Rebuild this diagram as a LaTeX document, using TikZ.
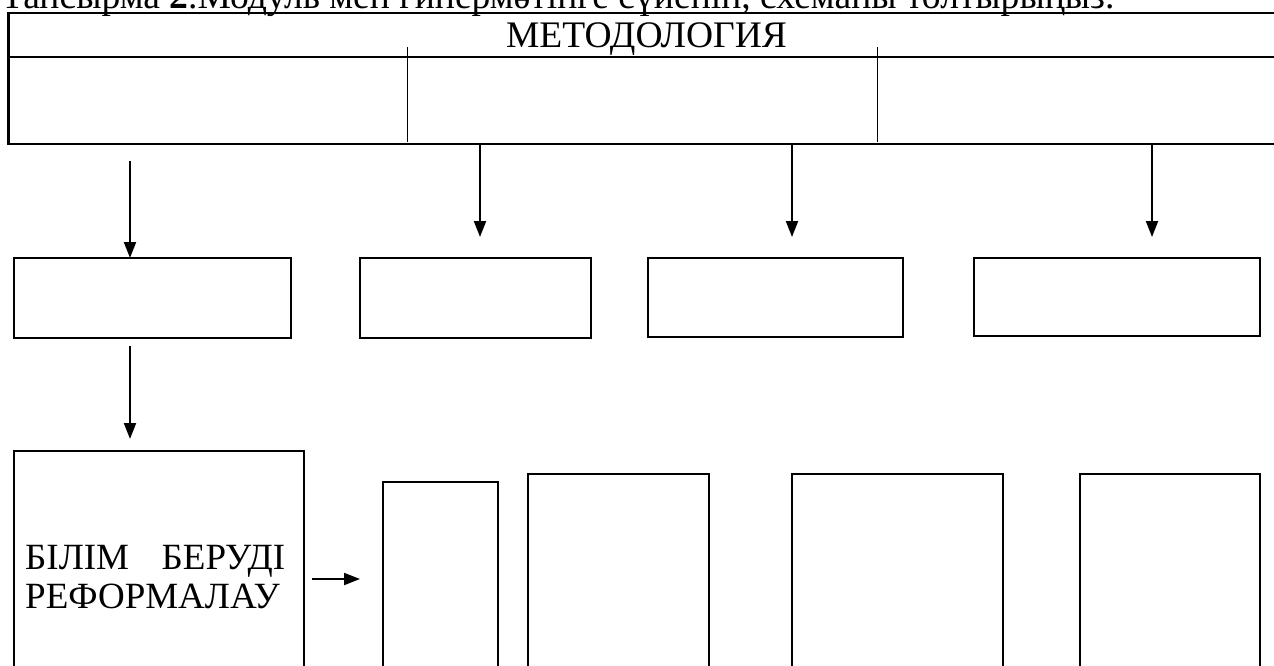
\documentclass[tikz,border=0pt]{standalone}
\usepackage{fontspec}
\setmainfont{Liberation Serif}
\usetikzlibrary{arrows.meta}
\begin{document}
\begin{tikzpicture}[x=1pt,y=-1pt,
  frame/.style={line width=2.2pt},
  tick/.style={line width=1.5pt},
  box/.style={draw, line width=2pt, anchor=north west, inner sep=0pt, outer sep=0pt},
  arr/.style={line width=2pt, -{Triangle[length=16pt,width=12pt]}},
  lbl/.style={font=\fontsize{37}{39}\selectfont, inner sep=0pt}]
\clip (0,0) rectangle (1274,666);
% heading (cut by the top edge)
\node[lbl, font=\fontsize{37.6}{39}\selectfont, anchor=base west] (task) at (1,9) {Тапсырма \textbf{2}.Модуль мен гипермәтінге сүйеніп, схеманы толтырыңыз.};
% top frame
\draw[frame] (1290,12.7) -- (8.5,12.7) -- (8.5,144) -- (1290,144);
\draw[frame] (8.5,56.7) -- (1290,56.7);
\node[lbl, font=\fontsize{37.5}{39}\selectfont, anchor=base] (meth) at (646.5,47.7) {МЕТОДОЛОГИЯ};
\draw[tick] (407.5,47) -- (407.5,142);
\draw[tick] (877.5,47) -- (877.5,142);
% first row of boxes
\node[box, minimum width=277.5pt, minimum height=80pt] (b1) at (13.5,258) {};
\node[box, minimum width=231pt, minimum height=80pt] (b2) at (360,258) {};
\node[box, minimum width=255pt, minimum height=79pt] (b3) at (648,258) {};
\node[box, minimum width=286pt, minimum height=78pt] (b4) at (974,258) {};
% second row of boxes
\node[box, minimum width=290pt, minimum height=240pt] (big) at (14,451) {};
\node[box, minimum width=114.5pt, minimum height=230pt] (b5) at (383,482) {};
\node[box, minimum width=181pt, minimum height=230pt] (b6) at (528,474) {};
\node[box, minimum width=211pt, minimum height=230pt] (b7) at (792,474) {};
\node[box, minimum width=180pt, minimum height=230pt] (b8) at (1080,474) {};
\node[lbl, anchor=base west] (r1) at (25,569) {\makebox[260pt][s]{БІЛІМ БЕРУДІ}};
\node[lbl, anchor=base west] (r2) at (25,608) {РЕФОРМАЛАУ};
% arrows
\coordinate (s1) at (130,161);
\coordinate (s2) at (480,144);
\coordinate (e2) at (480,237);
\coordinate (s3) at (792,144);
\coordinate (e3) at (792,237);
\coordinate (s4) at (1152,144);
\coordinate (e4) at (1152,237);
\coordinate (s5) at (130,346);
\coordinate (e5) at (130,439);
\coordinate (s6) at (312,579);
\coordinate (e6) at (360,579);
\draw[arr] (s1) -- (s1 |- b1.north);
\draw[arr] (s2) -- (e2);
\draw[arr] (s3) -- (e3);
\draw[arr] (s4) -- (e4);
\draw[arr] (s5) -- (e5);
\draw[arr] (s6) -- (e6);
\end{tikzpicture}
\end{document}
